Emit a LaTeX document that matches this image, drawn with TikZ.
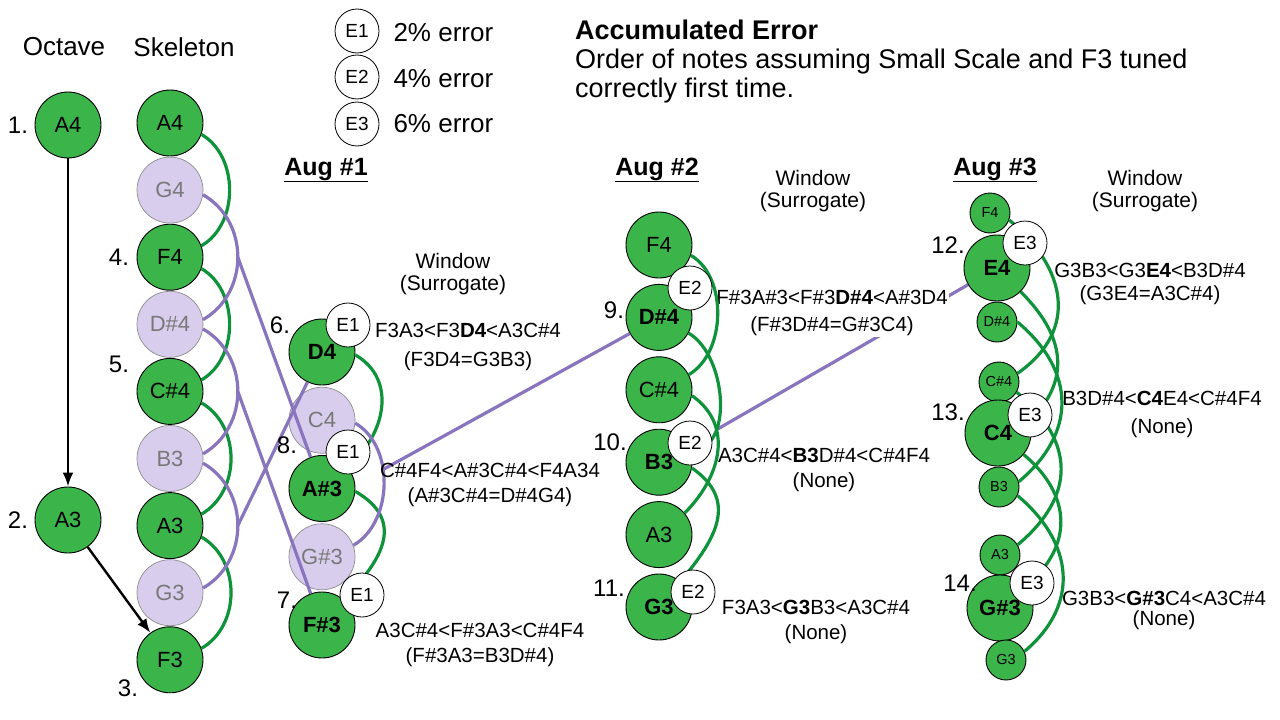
\documentclass[tikz,border=0pt]{standalone}
\usepackage{fontspec}
\setmainfont{Liberation Sans}
\usepackage{tikz}
\usetikzlibrary{positioning, arrows.meta, backgrounds}

\definecolor{notegreen}{RGB}{59,180,74}
\definecolor{arcgreen}{RGB}{14,146,58}
\definecolor{surrogate}{RGB}{137,116,190}
\definecolor{lavender}{RGB}{217,205,238}
\definecolor{ghostline}{RGB}{140,140,140}
\definecolor{ghosttext}{RGB}{120,120,120}

\begin{document}
\begin{tikzpicture}[x=1pt, y=1pt,
  main node/.style={circle,draw,line width=0.9pt,fill=notegreen,minimum size=66pt,inner sep=0pt,
    font=\fontsize{22}{24}\selectfont},
  key node/.style={main node,font=\fontsize{22}{24}\selectfont\bfseries},
  ghost node/.style={main node,fill=lavender,draw=ghostline,line width=0.7pt,text=ghosttext},
  small node/.style={main node,minimum size=40pt,font=\fontsize{14.5}{16}\selectfont},
  err node/.style={circle,draw,line width=0.8pt,fill=white,minimum size=44pt,inner sep=0pt,
    font=\fontsize{19}{20}\selectfont},
  num/.style={font=\fontsize{24}{28}\selectfont},
  head/.style={font=\fontsize{26}{30}\selectfont},
  aug/.style={font=\fontsize{25}{28}\selectfont\bfseries},
  window/.style={align=center,font=\fontsize{21}{22}\selectfont},
  order/.style={align=center,inner sep=1pt,font=\fontsize{20.5}{25}\selectfont},
  interval/.style={draw=arcgreen,line width=3.2pt},
  surr/.style={draw=surrogate,line width=3.2pt},
  tune/.style={-{Latex[length=14pt,width=11pt]},line width=2.4pt},
  arch/.style={out=-30,in=30,looseness=#1}]

\useasboundingbox (0,0) rectangle (1280,-720);

% titles and legend
\node[head] (tOct) at (64,-47) {Octave};
\node[head] (tSkel) at (184,-47) {Skeleton};
\node[err node] (k1) at (357,-31) {E1};
\node[err node] (k2) at (357,-77) {E2};
\node[err node] (k3) at (357,-124) {E3};
\node[head, anchor=west] (l1) at (390,-33) {2\% error};
\node[head, anchor=west] (l2) at (390,-79) {4\% error};
\node[head, anchor=west] (l3) at (390,-124) {6\% error};
\node[anchor=north west, align=left, inner sep=3pt,
  font=\fontsize{27}{29}\selectfont] (acc) at (572,-17)
  {\textbf{Accumulated Error}\\Order of notes assuming Small Scale and F3 tuned\\correctly first time.};

% octave
\node[main node] (oA4) at (68,-125) {A4};
\node[main node] (oA3) at (68,-520) {A3};

% skeleton
\begin{scope}[node distance=67.1pt]
\node[main node] (sA4) at (170,-123) {A4};
\node[ghost node] (sG4) [below of=sA4] {G4};
\node[main node] (sF4) [below of=sG4] {F4};
\node[ghost node] (sDs4) [below of=sF4] {D\#4};
\node[main node] (sCs4) [below of=sDs4] {C\#4};
\node[ghost node] (sB3) [below of=sCs4] {B3};
\node[main node] (sA3) [below of=sB3] {A3};
\node[ghost node] (sG3) [below of=sA3] {G3};
\node[main node] (sF3) [below of=sG3] {F3};
\end{scope}

% aug 1
\begin{scope}[node distance=68.25pt]
\node[key node] (aD4) at (322,-352) {D4};
\node[ghost node] (aC4) [below of=aD4] {C4};
\node[key node] (aAs3) [below of=aC4] {A\#3};
\node[ghost node] (aGs3) [below of=aAs3] {G\#3};
\node[key node] (aFs3) [below of=aGs3] {F\#3};
\end{scope}

% aug 2
\begin{scope}[node distance=72.4pt]
\node[main node] (bF4) at (659,-245) {F4};
\node[key node] (bDs4) [below of=bF4] {D\#4};
\node[main node] (bCs4) [below of=bDs4] {C\#4};
\node[key node] (bB3) [below of=bCs4] {B3};
\node[main node] (bA3) [below of=bB3] {A3};
\node[key node] (bG3) [below of=bA3] {G3};
\end{scope}

% aug 3
\node[small node] (cF4) at (990,-213) {F4};
\node[key node] (cE4) at (997,-268) {E4};
\node[small node] (cDs4) at (997,-322) {D\#4};
\node[small node] (cCs4) at (999,-382) {C\#4};
\node[key node] (cC4) at (998,-433) {C4};
\node[small node] (cB3) at (999,-487) {B3};
\node[small node] (cA3) at (1000,-555) {A3};
\node[key node] (cGs3) at (1000,-608) {G\#3};
\node[small node] (cG3) at (1006,-660) {G3};

% octave arrows
\draw[tune] (oA4) -- (oA3);
\draw[tune] (oA3) -- (sF3);

% skeleton thirds
\draw[interval] (sA4.-20) to[arch=1] (sF4.20);
\draw[interval] (sF4.-20) to[arch=1] (sCs4.20);
\draw[interval] (sCs4.-20) to[arch=1.05] (sA3.20);
\draw[interval] (sA3.-20) to[arch=1.05] (sF3.20);
\draw[surr] (sG4.-8) to[arch=1.1] node[coordinate,pos=.5] (mG4) {} (sDs4.8);
\draw[surr] (sDs4.-8) to[arch=1.1] node[coordinate,pos=.5] (mDs4) {} (sB3.8);
\draw[surr] (sB3.-8) to[arch=1.1] node[coordinate,pos=.5] (mB3) {} (sG3.8);
\draw[surr] (mG4) -- (aAs3);
\draw[surr] (mDs4) -- (aFs3);
\draw[surr] (mB3) -- (aD4);

% aug 1 thirds
\draw[interval] (aD4.-5) to[out=-30,in=40,looseness=1.12] (aAs3.40);
\draw[interval] (aAs3.-5) to[out=-30,in=45,looseness=1.35] (aFs3.50);
\draw[surr] (aC4.-5) to[arch=0.96] node[coordinate,pos=.4] (mC4) {} (aGs3.20);
\draw[surr] (mC4) -- (bDs4);

% aug 2 thirds
\draw[interval] (bF4.-18) to[out=-30,in=30,looseness=0.92] (bCs4.27);
\draw[interval] (bDs4.-28) to[out=-30,in=0,looseness=0.96] node[coordinate,pos=.7] (mDs4b) {} (bB3.20);
\draw[interval] (bCs4.-10) to[out=-35,in=45,looseness=1.12] (bA3.40);
\draw[interval] (bB3.-10) to[out=-35,in=50,looseness=1.27] (bG3.50);

% aug 3 thirds
\draw[interval] (cF4.-20) to[out=-40,in=35,looseness=1.25] (cCs4.25);
\draw[interval] (cE4.-45) to[out=-45,in=45,looseness=1.2] (cC4.20);
\draw[interval] (cDs4.0) to[out=-40,in=40,looseness=1.22] (cB3.15);
\draw[interval] (cCs4.-30) to[out=-40,in=40,looseness=1.28] (cA3.30);
\draw[interval] (cC4.-40) to[out=-40,in=40,looseness=1.22] (cGs3.40);
\draw[interval] (cB3.-25) to[out=-40,in=40,looseness=1.2] (cG3.25);

\begin{scope}[on background layer]
\draw[surr] (mDs4b) -- (cE4);
\node[order, fill=white] (r9) at (832,-313) {F\#3A\#3<F\#3\textbf{D\#4}<A\#3D4\\[2pt](F\#3D\#4=G\#3C4)};
\end{scope}

% error marks
\node[err node] (eD4) at (348,-325) {E1};
\node[err node] (eAs3) at (348,-452) {E1};
\node[err node] (eFs3) at (362,-595) {E1};
\node[err node] (eDs4) at (690,-288) {E2};
\node[err node] (eB3) at (690,-443) {E2};
\node[err node] (eG3) at (693,-592) {E2};
\node[err node] (eE4) at (1025,-243) {E3};
\node[err node] (eC4) at (1030,-415) {E3};
\node[err node] (eGs3) at (1032,-583) {E3};

% numbers
\node[num] (n1) at (18,-125) {1.};
\node[num] (n2) at (18,-520) {2.};
\node[num] (n3) at (128,-688) {3.};
\node[num] (n4) at (119,-257) {4.};
\node[num] (n5) at (119,-364) {5.};
\node[num] (n6) at (280,-325) {6.};
\node[num] (n7) at (287,-600) {7.};
\node[num] (n8) at (287,-445) {8.};
\node[num] (n9) at (614,-310) {9.};
\node[num] (n10) at (610,-442) {10.};
\node[num] (n11) at (609,-588) {11.};
\node[num] (n12) at (948,-245) {12.};
\node[num] (n13) at (948,-412) {13.};
\node[num] (n14) at (960,-583) {14.};

% headings
\node[aug, anchor=base] (h1) at (326,-175) {\underline{Aug \#1}};
\node[aug, anchor=base] (h2) at (657,-175) {\underline{Aug \#2}};
\node[aug, anchor=base] (h3) at (995,-175) {\underline{Aug \#3}};
\node[window] (w1) at (453,-274) {Window\\(Surrogate)};
\node[window] (w2) at (813,-191) {Window\\(Surrogate)};
\node[window] (w3) at (1145,-191) {Window\\(Surrogate)};

% orderings
\node[order] (r6) at (468,-347) {F3A3<F3\textbf{D4}<A3C\#4\\[4pt](F3D4=G3B3)};
\node[order] (r8) at (490,-485) {C\#4F4<A\#3C\#4<F4A34\\(A\#3C\#4=D\#4G4)};
\node[order] (r7) at (480,-645) {A3C\#4<F\#3A3<C\#4F4\\(F\#3A3=B3D\#4)};
\node[order] (r10) at (824,-470) {A3C\#4<\textbf{B3}D\#4<C\#4F4\\(None)};
\node[order] (r11) at (816,-622) {F3A3<\textbf{G3}B3<A3C\#4\\(None)};
\node[order] (r12) at (1150,-284) {G3B3<G3\textbf{E4}<B3D\#4\\[-2pt](G3E4=A3C\#4)};
\node[order] (r13) at (1162,-414) {B3D\#4<\textbf{C4}E4<C\#4F4\\[3pt](None)};
\node[order] (r14) at (1164,-610) {G3B3<\textbf{G\#3}C4<A3C\#4\\[-5pt](None)};

\end{tikzpicture}
\end{document}
